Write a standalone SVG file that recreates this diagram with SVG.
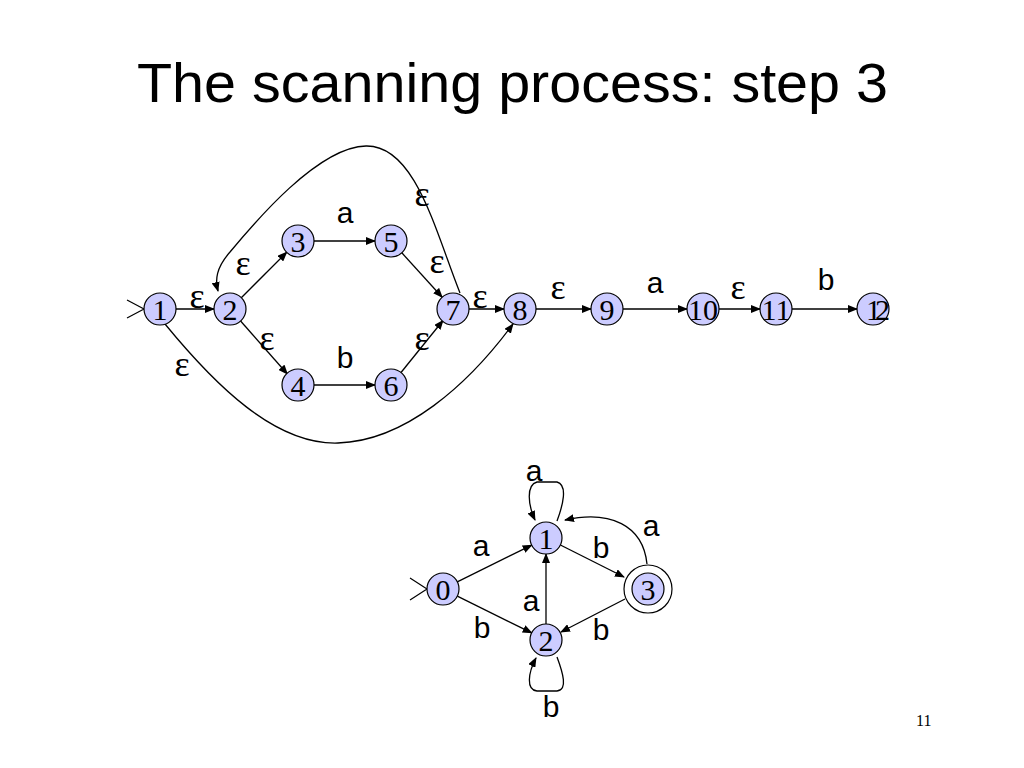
<svg xmlns="http://www.w3.org/2000/svg" width="1024" height="768" viewBox="0 0 1024 768">
<defs>
<style>
.bg{fill:#ffffff}
.title{font-family:"Comic Sans MS","Liberation Sans","DejaVu Sans",sans-serif;font-size:56px;fill:#000}
.st circle{fill:#ccccff;stroke:#000;stroke-width:1.2}
.st circle.ring{fill:#ffffff;stroke:#000;stroke-width:1.2}
.st text{font-family:"Liberation Serif","Times New Roman",serif;font-size:30px;fill:#000;text-anchor:middle}
.e{fill:none;stroke:#000;stroke-width:1.3;marker-end:url(#ah)}
.s{fill:none;stroke:#000;stroke-width:1.2}
.lab{font-family:"Comic Sans MS","Liberation Sans","DejaVu Sans",sans-serif;font-size:30px;fill:#000;text-anchor:middle}
.eps{font-family:"Liberation Serif","Times New Roman",serif;font-size:36px;fill:#000;text-anchor:middle}
.pg{font-family:"Liberation Serif","Times New Roman",serif;font-size:16px;fill:#000}
</style>
<marker id="ah" markerWidth="10" markerHeight="8" refX="9" refY="4" orient="auto" markerUnits="userSpaceOnUse">
<path d="M0,0 L10,4 L0,8 z" fill="#000"/>
</marker>
</defs>
<rect class="bg" x="0" y="0" width="1024" height="768"/>
<text class="title" x="137" y="102" textLength="751" lengthAdjust="spacingAndGlyphs">The scanning process: step 3</text>

<g id="connectors">
<path class="s" d="M127,300 L144,309 L127,318"/>
<path class="e" d="M176,309 L214,309"/>
<path class="e" d="M241.3,297.7 L286.7,252.3"/>
<path class="e" d="M240.6,321 L287.4,374"/>
<path class="e" d="M314,241 L375,241"/>
<path class="e" d="M314,385 L375,385"/>
<path class="e" d="M401.8,252.8 L442.2,297.2"/>
<path class="e" d="M401,372.5 L443,320.5"/>
<path class="e" d="M469,309 L504,309"/>
<path class="e" d="M536,309 L591,309"/>
<path class="e" d="M623,309 L687,309"/>
<path class="e" d="M719,309 L760,309"/>
<path class="e" d="M792,309 L857,309"/>
<path class="e" d="M460,293 C435,230 415,145 366,146 C318,147 255,222 230,252 C216,268 215,280 218,291"/>
<path class="e" d="M165,324 C215,385 275,445 338,443 C405,441 468,385 513,324"/>
<path class="s" d="M410,578 L427,589 L410,600"/>
<path class="e" d="M457.3,581.9 L531.7,545.1"/>
<path class="e" d="M457.3,596.1 L531.7,632.9"/>
<path class="e" d="M546,624 L546,554"/>
<path class="e" d="M560.4,545 L624,577"/>
<path class="e" d="M625,599 L561,632"/>
<path class="e" d="M647,564 C643,525 610,510 565,520"/>
<path class="e" d="M557,521 C563,505 568,485 557,482 L537,482 C526,485 528,505 535,520"/>
<path class="e" d="M557,657 C563,673 568,690 557,691 L537,691 C526,690 528,673 536,658"/>
</g>

<g id="labels">
<text class="lab" x="345" y="223">a</text>
<text class="lab" x="345" y="368">b</text>
<text class="eps" x="197" y="308">ε</text>
<text class="eps" x="243" y="275">ε</text>
<text class="eps" x="267" y="350">ε</text>
<text class="eps" x="422" y="206">ε</text>
<text class="eps" x="437" y="273">ε</text>
<text class="eps" x="422" y="350">ε</text>
<text class="eps" x="480" y="308">ε</text>
<text class="eps" x="182" y="376">ε</text>
<text class="eps" x="558" y="299">ε</text>
<text class="lab" x="655" y="293">a</text>
<text class="eps" x="738" y="299">ε</text>
<text class="lab" x="826" y="290">b</text>
<text class="lab" x="534" y="481">a</text>
<text class="lab" x="651" y="536">a</text>
<text class="lab" x="481" y="556">a</text>
<text class="lab" x="601" y="558">b</text>
<text class="lab" x="531" y="611">a</text>
<text class="lab" x="482" y="638">b</text>
<text class="lab" x="601" y="640">b</text>
<text class="lab" x="551" y="717">b</text>
</g>

<g id="n1" class="st"><circle cx="160" cy="309" r="16"/><text x="160" y="320">1</text></g>
<g id="n2" class="st"><circle cx="230" cy="309" r="16"/><text x="230" y="320">2</text></g>
<g id="n3" class="st"><circle cx="298" cy="241" r="16"/><text x="298" y="252">3</text></g>
<g id="n5" class="st"><circle cx="391" cy="241" r="16"/><text x="391" y="252">5</text></g>
<g id="n4" class="st"><circle cx="298" cy="385" r="16"/><text x="298" y="396">4</text></g>
<g id="n6" class="st"><circle cx="391" cy="385" r="16"/><text x="391" y="396">6</text></g>
<g id="n7" class="st"><circle cx="453" cy="309" r="16"/><text x="453" y="320">7</text></g>
<g id="n8" class="st"><circle cx="520" cy="309" r="16"/><text x="520" y="320">8</text></g>
<g id="n9" class="st"><circle cx="607" cy="309" r="16"/><text x="607" y="320">9</text></g>
<g id="n10" class="st"><circle cx="703" cy="309" r="16"/><text x="703" y="320">10</text></g>
<g id="n11" class="st"><circle cx="776" cy="309" r="16"/><text x="776" y="320">11</text></g>
<g id="n12" class="st"><circle cx="873" cy="309" r="16"/><text x="875" y="320" letter-spacing="-6">12</text></g>

<g id="d0" class="st"><circle cx="443" cy="589" r="16"/><text x="443" y="600">0</text></g>
<g id="d1" class="st"><circle cx="546" cy="538" r="16"/><text x="546" y="549">1</text></g>
<g id="d2" class="st"><circle cx="546" cy="640" r="16"/><text x="546" y="651">2</text></g>
<g id="d3" class="st"><circle class="ring" cx="648" cy="589" r="24"/><circle cx="648" cy="589" r="16"/><text x="648" y="600">3</text></g>

<text class="pg" x="916" y="726">11</text>
</svg>
